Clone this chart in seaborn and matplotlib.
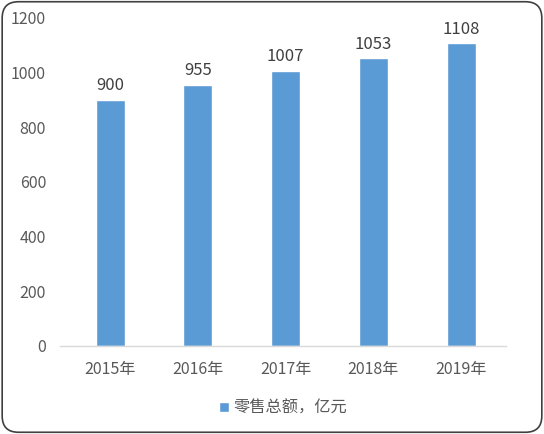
import matplotlib
matplotlib.use("Agg")
import matplotlib.pyplot as plt
import seaborn as sns
import pandas as pd
from matplotlib.patches import FancyBboxPatch

years = ["2015年", "2016年", "2017年", "2018年", "2019年"]
values = [900, 955, 1007, 1053, 1108]
series_name = "零售总额，亿元"

sns.set_theme(style="white")
plt.rcParams['font.family'] = ['Noto Sans CJK SC', 'DejaVu Sans']

df = pd.DataFrame({"year": years, "value": values})

fig = plt.figure(figsize=(5.44, 4.34), dpi=100)
ax = fig.add_axes([60/544, 88/434, 446/544, 328/434])
sns.barplot(data=df, x="year", y="value", color="#5B9BD5", width=0.33,
            saturation=1, ax=ax, label=series_name)

for i, v in enumerate(values):
    ax.annotate(str(v), (i, v), xytext=(0, 4), textcoords="offset points",
                ha="center", va="bottom", fontsize=12, color="#404040")

ax.set_ylim(0, 1200)
ax.set_yticks(range(0, 1201, 200))
ax.set_xlim(-0.57, 4.51)
ax.set_xlabel("")
ax.set_ylabel("")
for s in ["top", "right", "left"]:
    ax.spines[s].set_visible(False)
ax.spines["bottom"].set_color("#D9D9D9")
ax.spines["bottom"].set_linewidth(1.0)
ax.tick_params(axis="y", length=0, labelsize=11.5, labelcolor="#595959", pad=10)
ax.tick_params(axis="x", length=0, labelsize=11.5, labelcolor="#595959", pad=11)

leg = ax.legend(loc="center", bbox_to_anchor=(0.5, (434-408-88)/328), frameon=False,
                fontsize=11.7, handlelength=0.6, handleheight=0.6, handletextpad=0.3)
for t in leg.get_texts():
    t.set_color("#595959")

border = FancyBboxPatch((0.004, 0.004), 0.992, 0.992, boxstyle="round,pad=0,rounding_size=0.03",
                        transform=fig.transFigure, fill=False, edgecolor="#404040",
                        linewidth=1.2, mutation_aspect=544/434)
fig.patches.append(border)

fig.savefig("out.png", dpi=100)
